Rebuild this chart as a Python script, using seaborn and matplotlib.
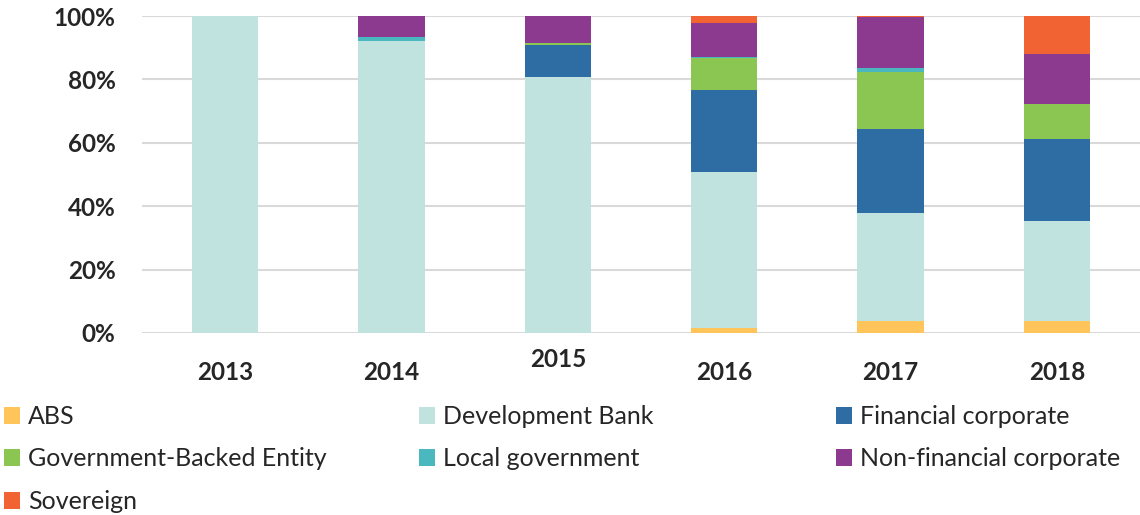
import matplotlib
matplotlib.use("Agg")
import matplotlib.pyplot as plt
from matplotlib.patches import Patch
from matplotlib.transforms import ScaledTranslation
import seaborn as sns
import pandas as pd
import numpy as np

years = ["2013", "2014", "2015", "2016", "2017", "2018"]
categories = ["ABS", "Development Bank", "Financial corporate", "Government-Backed Entity",
              "Local government", "Non-financial corporate", "Sovereign"]
abs_vals = [0.0, 0.0, 0.0, 1.6, 3.9, 3.7]
dev_bank = [100.0, 92.0, 80.7, 49.1, 33.9, 31.5]
fin_corp = [0.0, 0.0, 10.1, 26.0, 26.7, 26.0]
gov_backed = [0.0, 0.0, 0.7, 10.0, 17.9, 11.1]
local_gov = [0.0, 1.3, 0.0, 0.3, 1.1, 0.0]
nonfin_corp = [0.0, 6.7, 8.5, 10.9, 16.1, 15.6]
sovereign = [0.0, 0.0, 0.0, 2.1, 0.4, 12.1]
colors = ["#FFC55A", "#C0E3E0", "#2E6DA4", "#8BC653", "#4BB8C0", "#8B3A8F", "#F26334"]

series = [abs_vals, dev_bank, fin_corp, gov_backed, local_gov, nonfin_corp, sovereign]

sns.set_theme(style="white")
plt.rcParams['font.family'] = ['Lato', 'DejaVu Sans']

fig = plt.figure(figsize=(11.4, 5.15), dpi=100)
ax = fig.add_axes([142/1140, (515-333)/515, 1 - 142/1140, (333-16)/515])

bottom = np.zeros(len(years))
for cat, vals, col in zip(categories, series, colors):
    df = pd.DataFrame({"year": years, "value": vals})
    sns.barplot(data=df, x="year", y="value", color=col, bottom=bottom.copy(),
                width=0.40, ax=ax, saturation=1, linewidth=0, errorbar=None)
    bottom += np.array(vals)

ax.set_xlim(-0.5, 5.5)
ax.set_ylim(0, 100)
ax.set_yticks([0, 20, 40, 60, 80, 100])
ax.set_yticklabels([f"{v}%" for v in [0, 20, 40, 60, 80, 100]])
ax.yaxis.grid(True, color="#D9D9D9", linewidth=1.5)
ax.set_axisbelow(True)
for s in ax.spines.values():
    s.set_visible(False)
ax.set_xlabel("")
ax.set_ylabel("")
ax.tick_params(axis="y", length=0, pad=19, labelsize=17.5, labelcolor="#262626")
ax.tick_params(axis="x", length=0, pad=20, labelsize=17.5, labelcolor="#262626")
for lab in ax.get_yticklabels() + ax.get_xticklabels():
    lab.set_fontweight("bold")

# 2015 label sits higher in the reference
for lab in ax.get_xticklabels():
    if lab.get_text() == "2015":
        lab.set_transform(lab.get_transform() + ScaledTranslation(0, 13/100, fig.dpi_scale_trans))

# legend in three columns placed like the reference
col_groups = [[0, 3, 6], [1, 4], [2, 5]]
col_x = [4/1140, 419/1140, 836/1140]
for grp, x in zip(col_groups, col_x):
    handles = [Patch(facecolor=colors[i], edgecolor="none") for i in grp]
    labels = [categories[i] for i in grp]
    leg = fig.legend(handles, labels, loc="upper left", bbox_to_anchor=(x, 1 - 405/515),
                     frameon=False, fontsize=18, handlelength=0.65, handleheight=0.65,
                     handletextpad=0.3, labelspacing=0.78, borderaxespad=0, borderpad=0)
    for t in leg.get_texts():
        t.set_color("#262626")

fig.savefig("out.png", dpi=100)
